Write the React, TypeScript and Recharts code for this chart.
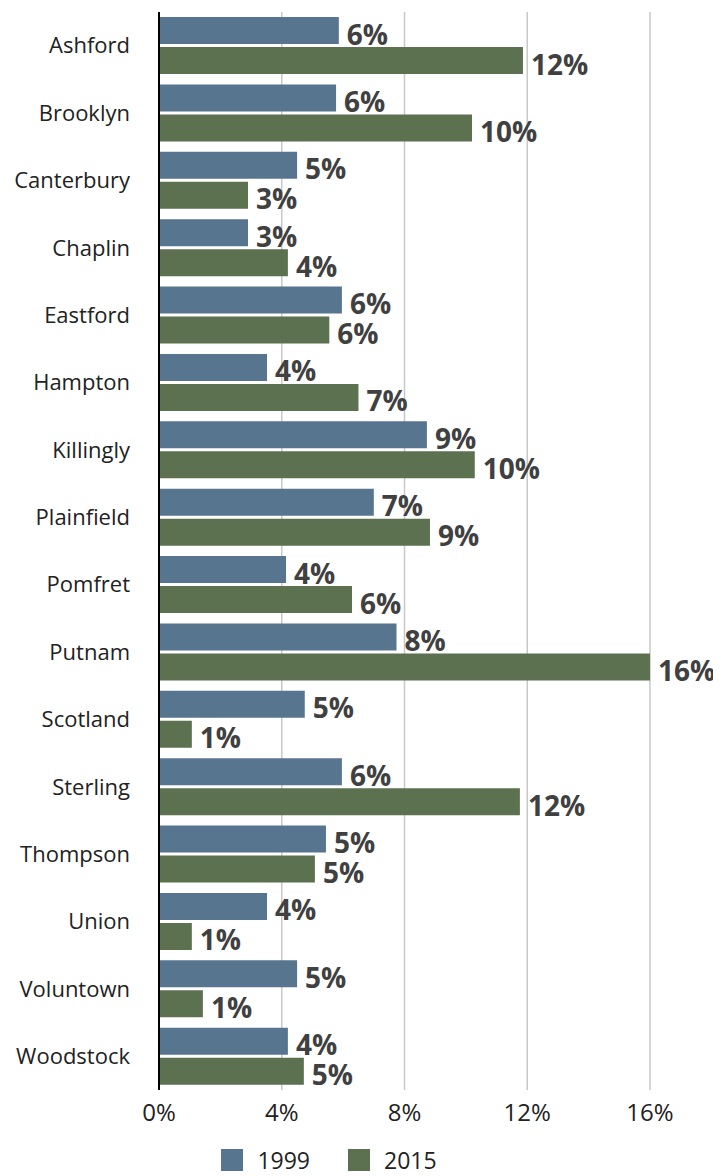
import { BarChart, Bar, XAxis, YAxis, CartesianGrid, Legend, LabelList } from 'recharts';

const towns = [
  'Ashford', 'Brooklyn', 'Canterbury', 'Chaplin', 'Eastford', 'Hampton', 'Killingly', 'Plainfield',
  'Pomfret', 'Putnam', 'Scotland', 'Sterling', 'Thompson', 'Union', 'Voluntown', 'Woodstock',
];
const share1999 = [5.86, 5.77, 4.5, 2.9, 5.96, 3.52, 8.73, 7.0, 4.14, 7.74, 4.75, 5.96, 5.44, 3.52, 4.5, 4.2];
const share2015 = [11.86, 10.2, 2.9, 4.2, 5.55, 6.5, 10.29, 8.83, 6.29, 16.0, 1.07, 11.76, 5.08, 1.07, 1.43, 4.72];
const xTicks = [0, 4, 8, 12, 16];

const BLUE = '#57758f';
const GREEN = '#5b7150';

const data = towns.map((town, i) => ({ town, y1999: share1999[i], y2015: share2015[i] }));

const pct = (v: any) => `${Math.round(Number(v))}%`;

// value labels sit a touch below the bar centre, as in the original
const renderLabel = (props: any) => {
  const { x, y, width, height, value } = props;
  return (
    <text
      x={x + width + 8}
      y={y + height / 2 + 3}
      dominantBaseline="central"
      fontSize={28}
      fontWeight={700}
      fill="#404040"
      fontFamily="Open Sans"
    >
      {pct(value)}
    </text>
  );
};

const LegendBox = () => (
  <div style={{ display: 'flex', justifyContent: 'center', gap: 38, fontFamily: 'Open Sans', fontSize: 23, color: '#222' }}>
    {[
      { name: '1999', color: BLUE },
      { name: '2015', color: GREEN },
    ].map((it) => (
      <div key={it.name} style={{ display: 'flex', alignItems: 'center', gap: 14 }}>
        <span style={{ width: 22, height: 22, background: it.color, display: 'inline-block' }} />
        <span>{it.name}</span>
      </div>
    ))}
  </div>
);

export default function App() {
  return (
    <div style={{ width: 713, height: 1168 }}>
      <BarChart
        width={713}
        height={1168}
        data={data}
        layout="vertical"
        margin={{ top: 4, right: 71, bottom: 0, left: 0 }}
        barSize={27}
        barGap={3}
      >
        <CartesianGrid horizontal={false} stroke="#c8c8c8" strokeWidth={1.5} />
        <XAxis
          type="number"
          domain={[0, 16]}
          ticks={xTicks}
          tickFormatter={(v) => `${v}%`}
          axisLine={false}
          tickLine={false}
          tickMargin={8}
          height={54}
          tick={{ fontSize: 24, fill: '#222', fontFamily: 'Open Sans' }}
        />
        <YAxis
          type="category"
          dataKey="town"
          width={151}
          axisLine={{ stroke: '#000', strokeWidth: 2 }}
          tickLine={false}
          tickMargin={23}
          tick={{ fontSize: 22, fill: '#222', fontFamily: 'Open Sans' }}
          interval={0}
        />
        <Legend verticalAlign="bottom" content={() => <LegendBox />} wrapperStyle={{ bottom: 0 }} />
        <Bar dataKey="y1999" name="1999" fill={BLUE} isAnimationActive={false}>
          <LabelList dataKey="y1999" content={renderLabel} />
        </Bar>
        <Bar dataKey="y2015" name="2015" fill={GREEN} isAnimationActive={false}>
          <LabelList dataKey="y2015" content={renderLabel} />
        </Bar>
      </BarChart>
    </div>
  );
}
